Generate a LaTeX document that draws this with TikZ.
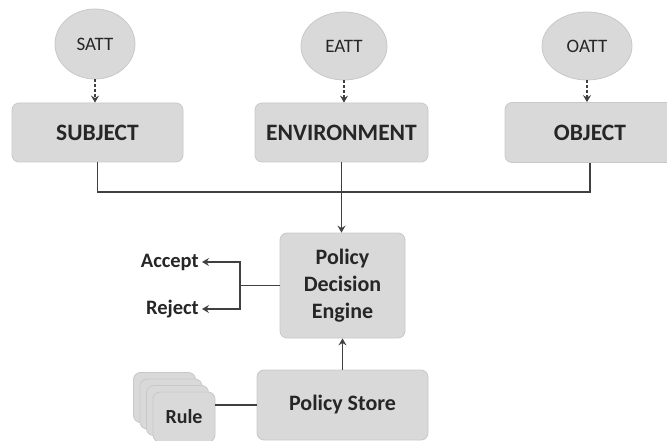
\documentclass[tikz,border=0pt]{standalone}
\usepackage{fontspec}
\setmainfont{Carlito}
\usetikzlibrary{arrows.meta,shapes.geometric}
\definecolor{boxfill}{HTML}{D9D9D9}
\definecolor{boxline}{HTML}{C8C8C8}
\definecolor{wire}{HTML}{404040}
\definecolor{ink}{HTML}{262626}
\begin{document}
\begin{tikzpicture}[x=1pt,y=-1pt,
  box/.style={draw=boxline,line width=0.8pt,fill=boxfill,rounded corners=7pt,
    text=ink,font=\bfseries\fontsize{23.5}{27}\selectfont,inner sep=0pt,align=center},
  attr/.style={ellipse,draw=boxline,line width=0.8pt,fill=boxfill,text=ink,
    font=\fontsize{19}{22}\selectfont,inner sep=0pt},
  wireline/.style={draw=wire,line width=1.8pt},
  tip/.style={-{Stealth[length=7pt,width=8pt,inset=2.5pt]}},
  dashtip/.style={wireline,dash pattern=on 3pt off 2pt,tip},
  outcome/.style={text=ink,font=\bfseries\fontsize{20.5}{24}\selectfont,inner sep=3pt}]
\useasboundingbox (0,0) rectangle (667,441);

% attribute sources
\node[attr,minimum width=80pt,minimum height=70pt] (satt) at (95,44) {SATT};
\node[attr,minimum width=86pt,minimum height=68pt] (eatt) at (344,46) {EATT};
\node[attr,minimum width=90pt,minimum height=68pt] (oatt) at (587,46) {OATT};

% entities
\node[box,minimum width=171pt,minimum height=59pt] (subj) at (97.5,132.5) {SUBJECT};
\node[box,minimum width=173pt,minimum height=59pt] (env) at (341.5,132.5) {ENVIRONMENT};
\node[box,minimum width=170pt,minimum height=60pt] (obj) at (590,132.5) {OBJECT};

% decision and store
\node[box,minimum width=125pt,minimum height=105pt,font=\bfseries\fontsize{22}{27}\selectfont] (pde) at (342.5,285.5) {Policy\\Decision\\Engine};
\node[box,minimum width=171pt,minimum height=70pt,font=\bfseries\fontsize{22}{26}\selectfont] (store) at (342.5,405) {Policy Store};

% stacked rules
\foreach \k in {3,2,1}
  \node[box,minimum width=62pt,minimum height=50pt] at (184-6.5*\k,417-6.5*\k) {};
\node[box,minimum width=62pt,minimum height=50pt,font=\bfseries\fontsize{20}{24}\selectfont] (rule) at (184,417) {Rule};

% outcomes
\node[outcome,anchor=east] (accept) at (202,262) {Accept};
\node[outcome,anchor=east] (reject) at (202,309) {Reject};

% attribute links
\draw[dashtip] (satt.south) -- (subj.north -| satt.south);
\draw[dashtip] (eatt.south) -- (env.north -| eatt.south);
\draw[dashtip] (oatt.south) -- (obj.north -| oatt.south);

% request bus into the engine
\coordinate (bus) at (341.5,192);
\draw[wireline] (subj.south) |- (bus) -| (obj.south);
\draw[wireline,tip] (env.south) -- (pde.north -| env.south);

% decision outputs
\coordinate (fork) at (240,285.5);
\draw[wireline] (pde.west) -- (fork);
\draw[wireline,tip] (fork) |- (accept.east);
\draw[wireline,tip] (fork) |- (reject.east);

% store feeds the engine
\draw[wireline,tip] (store.north) -- (pde.south);
\draw[wireline] (store.west) -- (store.west -| rule.east);
\end{tikzpicture}
\end{document}
